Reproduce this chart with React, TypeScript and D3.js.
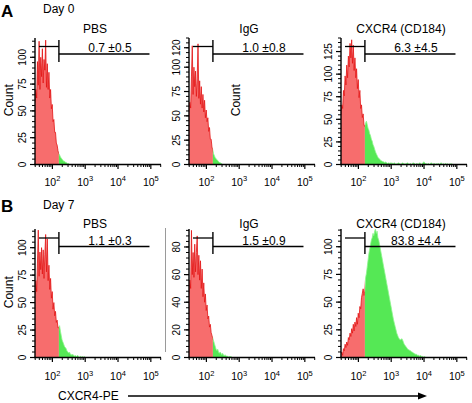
import React from "react";
import * as d3 from "d3";

// ---------- data ----------
// histogram bins: log10(CXCR4-PE) = binStart + i * binStep
const binStart = 1.47;
const binStep = 0.025;
const xLogMin = 1.47;
const xLogMax = 5.31;
const xMajorExps = [2, 3, 4, 5];

const gateLow = 39;
const gateCut = 158;
const gateHigh = 91000;

const rowLabels = ["A", "B"];
const dayLabels = ["Day 0", "Day 7"];
const titles = ["PBS", "IgG", "CXCR4 (CD184)"];
const pctDay0 = ["0.7 ±0.5", "1.0 ±0.8", "6.3 ±4.5"];
const pctDay7 = ["1.1 ±0.3", "1.5 ±0.9", "83.8 ±4.4"];

const yMaxDay0 = [118, 130, 140];
const yMaxDay7 = [117, 93, 116];
const yTicksDay0 = [
  [0, 25, 50, 75, 100],
  [0, 25, 50, 75, 100, 120],
  [0, 25, 50, 75, 100, 125],
];
const yTicksDay7 = [
  [0, 25, 50, 75, 100],
  [0, 20, 40, 60, 80],
  [0, 25, 50, 75, 100],
];
const yMinorDay0 = [5, 5, 5];
const yMinorDay7 = [5, 4, 5];

const pbsDay0 = [58, 70, 62, 96, 74, 115, 70, 100, 82, 108, 76, 98, 88, 116, 72, 94, 70, 86, 62, 70, 52, 56, 40, 42, 30, 30, 20, 18, 13, 10, 9, 7, 6, 5, 4, 3, 3, 2, 2, 1, 1, 1, 0];
const iggDay0 = [56, 64, 58, 90, 122, 72, 100, 80, 96, 70, 88, 124, 68, 86, 62, 80, 58, 72, 54, 66, 48, 56, 44, 48, 34, 38, 26, 26, 18, 15, 11, 9, 7, 6, 5, 4, 3, 2, 2, 1, 1, 0];
const cxcr4Day0 = [55, 66, 62, 82, 76, 98, 88, 110, 96, 120, 108, 134, 118, 138, 112, 132, 104, 118, 96, 106, 84, 94, 74, 82, 62, 66, 52, 56, 44, 42,
  46, 48, 44, 40, 38, 34, 32, 28, 26, 22, 20, 17, 14, 12, 10, 8, 7, 6, 5, 4, 4, 3, 3, 2, 3, 2, 2, 1, 2,
  1, 2, 1, 2, 1, 1, 2, 1, 0, 1, 1, 2, 1, 1, 0, 1, 2, 1, 1, 0, 1, 1, 2, 1, 0, 1, 1, 0, 1, 2, 1, 1, 0, 1, 1, 0, 1, 2, 1, 0, 1,
  2, 3, 2, 1, 1, 0, 1, 1, 0, 1, 2, 1, 0, 1, 1, 0, 1, 0, 1, 1, 0, 1, 2, 1, 0, 1, 0, 1, 1, 0, 1, 0, 0, 1, 0, 1, 0];
const pbsDay7 = [58, 70, 60, 86, 116, 74, 96, 80, 100, 76, 98, 72, 94, 112, 78, 108, 70, 84, 62, 72, 54, 60, 44, 50, 38, 42, 32, 34, 27, 27,
  29, 24, 20, 16, 14, 12, 10, 9, 8, 6, 5, 4, 5, 3, 3, 2, 3, 2, 1, 2, 1, 1, 2, 1, 0, 1, 1, 0, 1, 0, 1, 0];
const iggDay7 = [46, 56, 50, 92, 60, 76, 58, 82, 62, 76, 88, 60, 74, 56, 70, 50, 64, 44, 54, 40, 46, 34, 38, 28, 30, 22, 24, 18, 16, 14,
  12, 10, 8, 6, 5, 6, 4, 3, 4, 3, 2, 3, 2, 1, 2, 1, 1, 1, 0, 1, 0, 1, 0];
const cxcr4Day7 = [3, 5, 2, 8, 6, 12, 9, 14, 11, 18, 16, 22, 19, 26, 22, 30, 24, 32, 28, 36, 30, 40, 36, 46, 44, 54, 58, 62, 56, 60,
  72, 76, 82, 88, 94, 98, 102, 106, 108, 112, 110, 114, 116, 112, 114, 108, 106, 102, 98, 94, 90, 86, 82, 78, 74, 70, 66, 62, 58, 54,
  50, 46, 42, 38, 34, 31, 28, 25, 22, 20, 18, 17, 16, 16, 17, 16, 14, 12, 11, 10, 9, 8, 7, 7, 6, 6, 5, 5, 4, 4,
  3, 3, 3, 2, 2, 2, 1, 2, 1, 1, 1, 0, 1, 0, 0];

const countsDay0 = [pbsDay0, iggDay0, cxcr4Day0];
const countsDay7 = [pbsDay7, iggDay7, cxcr4Day7];

const xAxisLabel = "CXCR4-PE";
const yAxisLabel = "Count";

// ---------- layout / style ----------
const W = 472;
const H = 403;
const FONT = "'Liberation Sans', Arial, Helvetica, sans-serif";
const colX = [35, 189, 341];
const plotW = 126;
const rows = [
  { top: 38, bottom: 164.5, titleY: 33, pctY: 52, gL: 8.5, gR: 16, gV0: 2, gV1: 24, tickLabelY: 185.5, letterY: 17, dayY: 12.5 },
  { top: 229, bottom: 357.5, titleY: 227.5, pctY: 244.5, gL: 9, gR: 17.5, gV0: 3, gV1: 25, tickLabelY: 380, letterY: 212, dayY: 208.5 },
];
const RED_FILL = "#f76d6d";
const RED_LINE = "#e31515";
const GREEN_FILL = "#55e855";
const GREEN_LINE = "#8ef58e";

type PanelSpec = {
  id: string;
  row: number;
  col: number;
  title: string;
  pct: string;
  yMax: number;
  yTicks: number[];
  yMinor: number;
  counts: number[];
  countLabel: "left" | "inside" | null;
};

const panels: PanelSpec[] = [];
for (let c = 0; c < 3; c++) {
  panels.push({
    id: `a${c}`, row: 0, col: c, title: titles[c], pct: pctDay0[c], yMax: yMaxDay0[c],
    yTicks: yTicksDay0[c], yMinor: yMinorDay0[c], counts: countsDay0[c],
    countLabel: c === 0 ? "left" : c === 1 ? "inside" : null,
  });
}
for (let c = 0; c < 3; c++) {
  panels.push({
    id: `b${c}`, row: 1, col: c, title: titles[c], pct: pctDay7[c], yMax: yMaxDay7[c],
    yTicks: yTicksDay7[c], yMinor: yMinorDay7[c], counts: countsDay7[c],
    countLabel: c === 0 ? "left" : null,
  });
}

function Panel({ p }: { p: PanelSpec }) {
  const R = rows[p.row];
  const ax = colX[p.col];
  const x = d3.scaleLog().domain([10 ** xLogMin, 10 ** xLogMax]).range([ax, ax + plotW]);
  const y = d3.scaleLinear().domain([0, p.yMax]).range([R.bottom, R.top]);
  const pts: [number, number][] = p.counts.map((c, i) => [10 ** (binStart + i * binStep), c]);
  const area = d3.area<[number, number]>().x((d) => x(d[0])).y0(R.bottom).y1((d) => y(d[1]));
  const line = d3.line<[number, number]>().x((d) => x(d[0])).y((d) => y(d[1]));
  const gx = x(gateCut);
  const areaD = area(pts) || "";
  const lineD = line(pts) || "";

  const minorX: number[] = [];
  for (let e = 1; e <= 5; e++) {
    for (let k = 2; k <= 9; k++) {
      const v = k * 10 ** e;
      if (v >= 10 ** xLogMin && v <= 10 ** xLogMax) minorX.push(v);
    }
  }
  const minorY = d3.range(0, p.yMax + 0.001, p.yMinor);

  return (
    <g>
      <defs>
        <clipPath id={`cr-${p.id}`}>
          <rect x={ax} y={R.top - 20} width={gx - ax} height={R.bottom - R.top + 20} />
        </clipPath>
        <clipPath id={`cg-${p.id}`}>
          <rect x={gx} y={R.top - 20} width={ax + plotW - gx} height={R.bottom - R.top + 20} />
        </clipPath>
      </defs>
      <g clipPath={`url(#cr-${p.id})`}>
        <path d={areaD} fill={RED_FILL} />
        <path d={lineD} fill="none" stroke={RED_LINE} strokeWidth={0.8} />
      </g>
      <g clipPath={`url(#cg-${p.id})`}>
        <path d={areaD} fill={GREEN_FILL} />
        <path d={lineD} fill="none" stroke={GREEN_LINE} strokeWidth={0.8} />
      </g>

      {/* axes */}
      <line x1={ax} x2={ax} y1={R.top} y2={R.bottom} stroke="#000" strokeWidth={1.4} />
      <line x1={ax - 1} x2={ax + plotW} y1={R.bottom} y2={R.bottom} stroke="#000" strokeWidth={1.4} />
      {minorY.map((v) => (
        <line key={`my${v}`} x1={ax - 3} x2={ax} y1={y(v)} y2={y(v)} stroke="#000" strokeWidth={1} />
      ))}
      {p.yTicks.map((v) => (
        <g key={`ty${v}`}>
          <line x1={ax - 5} x2={ax} y1={y(v)} y2={y(v)} stroke="#000" strokeWidth={1.2} />
          <text
            transform={`translate(${ax - 9},${y(v)}) rotate(-90)`}
            textAnchor="middle"
            fontSize={10}
            fontFamily={FONT}
          >
            {v}
          </text>
        </g>
      ))}
      {minorX.map((v) => (
        <line key={`mx${v}`} x1={x(v)} x2={x(v)} y1={R.bottom} y2={R.bottom + 2.5} stroke="#000" strokeWidth={1} />
      ))}
      {xMajorExps.map((e) => (
        <g key={`tx${e}`}>
          <line x1={x(10 ** e)} x2={x(10 ** e)} y1={R.bottom} y2={R.bottom + 4.5} stroke="#000" strokeWidth={1.2} />
          <text x={x(10 ** e)} y={R.tickLabelY} textAnchor="middle" fontSize={10.5} fontFamily={FONT}>
            <tspan>10</tspan>
            <tspan dy={-4.5} fontSize={7.5}>{e}</tspan>
          </text>
        </g>
      ))}

      {/* gate */}
      <line x1={gx} x2={gx} y1={R.top + R.gV0} y2={R.top + R.gV1} stroke="#000" strokeWidth={1.4} />
      <line x1={x(gateLow)} x2={gx} y1={R.top + R.gL} y2={R.top + R.gL} stroke="#000" strokeWidth={1.3} />
      <line x1={gx} x2={x(gateHigh)} y1={R.top + R.gR} y2={R.top + R.gR} stroke="#000" strokeWidth={1.3} />

      <text x={ax + 60} y={R.titleY} textAnchor="middle" fontSize={12} fontFamily={FONT}>
        {p.title}
      </text>
      <text x={ax + 75} y={R.pctY} textAnchor="middle" fontSize={12} fontFamily={FONT}>
        {p.pct}
      </text>

      {p.countLabel && (
        <text
          transform={`translate(${p.countLabel === "left" ? ax - 22.5 : ax + 51},${(R.top + R.bottom) / 2 - 1}) rotate(-90)`}
          textAnchor="middle"
          fontSize={12}
          fontFamily={FONT}
        >
          {yAxisLabel}
        </text>
      )}
    </g>
  );
}

export default function App() {
  return (
    <svg
      width={W}
      height={H}
      viewBox={`0 0 ${W} ${H}`}
      style={{ position: "absolute", left: 0, top: 0, background: "#fff" }}
    >
      <rect x={0} y={0} width={W} height={H} fill="#fff" />
      {panels.map((p) => (
        <Panel key={p.id} p={p} />
      ))}
      {rows.map((r, i) => (
        <g key={`rl${i}`}>
          <text x={1} y={r.letterY} fontSize={17} fontWeight="bold" fontFamily={FONT}>
            {rowLabels[i]}
          </text>
          <text x={43} y={r.dayY} fontSize={12} fontFamily={FONT}>
            {dayLabels[i]}
          </text>
        </g>
      ))}
      {/* separator line in row B */}
      <line x1={165.5} x2={165.5} y1={228} y2={352} stroke="#9a9a9a" strokeWidth={1} />
      {/* x axis label with arrow */}
      <text x={58} y={400} fontSize={12} fontFamily={FONT}>
        {xAxisLabel}
      </text>
      <line x1={128} x2={418} y1={396} y2={396} stroke="#000" strokeWidth={1.5} />
      <path d="M418,392.5 L427,396 L418,399.5 Z" fill="#000" />
    </svg>
  );
}
